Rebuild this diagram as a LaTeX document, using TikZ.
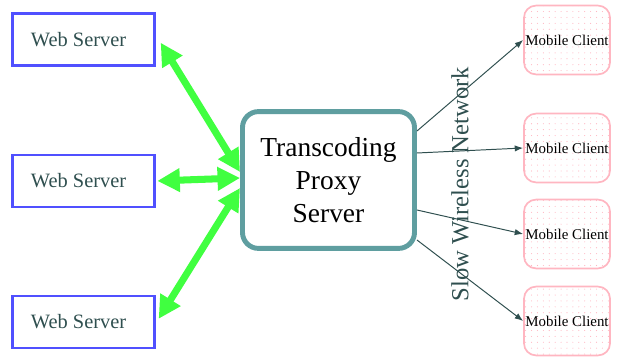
\documentclass[tikz,border=0pt]{standalone}
\usepackage{fontspec}
\setmainfont{Liberation Serif}
\usetikzlibrary{arrows.meta,calc,patterns.meta}
\definecolor{serverblue}{RGB}{80,80,255}
\definecolor{linkgreen}{RGB}{64,255,64}
\definecolor{proxyteal}{RGB}{95,158,160}
\definecolor{slate}{RGB}{47,79,79}
\definecolor{clientpink}{RGB}{255,182,193}
\tikzset{
  webserver/.style={draw=serverblue,line width=2pt,minimum width=3.55cm,minimum height=1.3cm,
    text=slate,font=\fontsize{14.5}{17}\selectfont},
  mobile/.style={draw=clientpink,line width=1.2pt,rounded corners=0.3cm,minimum width=2.15cm,
    minimum height=1.72cm,inner sep=0pt,pattern={Dots[distance=4.2pt,radius=0.4pt]},
    pattern color=clientpink,font=\fontsize{10.6}{12}\selectfont},
  wired/.style={linkgreen,line width=5pt,{Triangle[length=16pt,width=16pt]}-{Triangle[length=16pt,width=16pt]},shorten <=1pt},
  wireless/.style={slate,line width=0.7pt,-{Latex[length=6pt,width=4.5pt]}}
}
\begin{document}
\begin{tikzpicture}[x=0.025cm,y=-0.025cm]
  \useasboundingbox (0,0) rectangle (619,360);
  % web servers on the left
  \node[webserver] (ws1) at (83.5,39.5) {Web Server\hspace*{7pt}};
  \node[webserver] (ws2) at (83.5,181) {Web Server\hspace*{7pt}};
  \node[webserver] (ws3) at (83.5,322) {Web Server\hspace*{7pt}};
  % transcoding proxy in the middle
  \node[draw=proxyteal,line width=3.5pt,rounded corners=0.4cm,fill=white,minimum width=4.3cm,
    minimum height=3.42cm,align=center,font=\fontsize{19.5}{23.5}\selectfont] (proxy) at (328.5,180)
    {Transcoding\\Proxy\\Server};
  % mobile clients on the right
  \node[mobile] (mc1) at (567,40) {Mobile Client};
  \node[mobile] (mc2) at (567,148) {Mobile Client};
  \node[mobile] (mc3) at (567,234) {Mobile Client};
  \node[mobile] (mc4) at (567,321) {Mobile Client};
  % wired links
  \draw[wired] ($(ws1.east)+(4,2)$) -- ($(proxy.west)+(0,-8)$);
  \draw[wired] (ws2.east) -- ($(proxy.west)+(0,-2)$);
  \draw[wired] ($(ws3.east)+(2,-2)$) -- ($(proxy.west)+(0,8)$);
  % wireless links
  \draw[wireless] ($(proxy.east)+(0,-49)$) -- (mc1.west);
  \draw[wireless] ($(proxy.east)+(0,-27)$) -- (mc2.west);
  \draw[wireless] ($(proxy.east)+(0,30)$) -- (mc3.west);
  \draw[wireless] ($(proxy.east)+(0,60)$) -- (mc4.west);
  \node[rotate=90,text=slate,font=\fontsize{17.5}{20}\selectfont] (net) at (460,184) {Slow Wireless Network};
\end{tikzpicture}
\end{document}
